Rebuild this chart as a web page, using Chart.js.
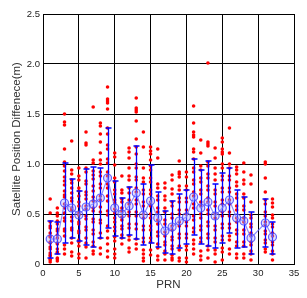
<!DOCTYPE html>
<html>
<head>
<meta charset="utf-8">
<script src="https://cdn.jsdelivr.net/npm/chart.js@4/dist/chart.umd.min.js"></script>
<style>
  html, body { margin: 0; padding: 0; background: #fff; }
  #wrap { width: 307px; height: 298px; }
</style>
</head>
<body>
<div id="wrap"><canvas id="prn-chart" width="307" height="298"></canvas></div>
<script>
// PRN numbers (30 has no data)
var prn = [1,2,3,4,5,6,7,8,9,10,11,12,13,14,15,16,17,18,19,20,21,22,23,24,25,26,27,28,29,31,32];

// mean difference per PRN (m)
var means = [0.25,0.25,0.61,0.56,0.49,0.57,0.60,0.66,0.86,0.56,0.50,0.58,0.71,0.49,0.63,0.46,0.33,0.37,0.43,0.47,0.67,0.56,0.62,0.48,0.56,0.64,0.46,0.43,0.26,0.41,0.27];

// error bar ends
var upper = [0.43,0.42,1.01,0.85,0.73,0.95,0.97,0.96,1.36,0.83,0.66,0.77,1.18,0.80,0.99,0.72,0.53,0.63,0.70,0.74,1.05,0.94,1.03,0.80,0.91,0.96,0.74,0.67,0.52,0.65,0.42];
var lower = [0.06,0.10,0.21,0.26,0.23,0.19,0.17,0.26,0.36,0.28,0.26,0.29,0.25,0.19,0.21,0.17,0.11,0.10,0.16,0.20,0.29,0.20,0.18,0.16,0.21,0.31,0.16,0.17,0.10,0.17,0.10];

// individual samples per PRN (same order as prn)
var samples = [
  [0.65,0.51,0.42,0.38,0.36,0.31,0.28,0.27,0.22,0.21,0.17,0.15,0.11,0.09,0.08,0.05,0.04,0.02],
  [0.56,0.51,0.48,0.43,0.40,0.35,0.33,0.29,0.26,0.21,0.20,0.15,0.12,0.11,0.06,0.05,0.03],
  [1.50,1.42,1.39,1.15,1.02,0.98,0.93,0.87,0.83,0.79,0.73,0.69,0.67,0.60,0.56,0.51,0.46,0.43,0.35,0.33,0.28,0.19,0.15,0.10],
  [1.23,0.94,0.90,0.84,0.81,0.76,0.71,0.66,0.63,0.56,0.54,0.47,0.43,0.36,0.34,0.26,0.21,0.12,0.08],
  [0.96,0.88,0.84,0.76,0.73,0.68,0.62,0.58,0.51,0.49,0.42,0.40,0.33,0.31,0.24,0.22,0.18,0.10,0.06],
  [1.32,1.21,1.19,0.96,0.92,0.83,0.80,0.72,0.69,0.65,0.58,0.55,0.48,0.45,0.37,0.34,0.26,0.21,0.17,0.06],
  [1.57,1.04,1.01,0.93,0.89,0.85,0.78,0.73,0.67,0.63,0.56,0.53,0.45,0.42,0.34,0.30,0.22,0.18,0.13,0.10],
  [1.41,1.38,1.30,1.22,1.11,1.04,1.00,0.92,0.88,0.80,0.76,0.68,0.64,0.57,0.52,0.44,0.41,0.31,0.26,0.16,0.10],
  [1.77,1.65,1.63,1.61,1.55,1.36,1.30,1.19,1.15,1.05,1.01,0.92,0.88,0.80,0.76,0.68,0.63,0.53,0.49,0.38,0.33,0.26,0.20,0.13,0.07],
  [1.11,1.07,0.99,0.86,0.82,0.74,0.70,0.64,0.61,0.55,0.51,0.46,0.42,0.37,0.33,0.27,0.23,0.15,0.10,0.06],
  [0.88,0.74,0.71,0.65,0.62,0.56,0.53,0.47,0.44,0.38,0.35,0.29,0.26,0.20],
  [1.16,1.12,1.06,0.96,0.88,0.84,0.76,0.71,0.64,0.60,0.52,0.48,0.40,0.36,0.28,0.24,0.16,0.12],
  [1.66,1.56,1.54,1.52,1.43,1.25,1.17,1.10,1.00,0.96,0.87,0.84,0.76,0.72,0.64,0.60,0.52,0.48,0.40,0.35,0.25,0.20,0.15],
  [1.32,1.17,0.96,0.86,0.82,0.74,0.70,0.62,0.58,0.50,0.46,0.38,0.34,0.26,0.22,0.14,0.10,0.06,0.03],
  [1.17,1.13,1.10,1.04,0.98,0.94,0.86,0.82,0.74,0.70,0.62,0.58,0.50,0.46,0.38,0.34,0.26,0.22,0.14,0.09],
  [1.15,1.06,0.80,0.76,0.68,0.64,0.56,0.52,0.44,0.40,0.32,0.28,0.20,0.16,0.08,0.04],
  [0.81,0.76,0.68,0.64,0.56,0.52,0.44,0.40,0.32,0.28,0.22,0.19,0.13,0.10,0.04],
  [0.89,0.84,0.75,0.70,0.62,0.58,0.50,0.46,0.38,0.34,0.27,0.24,0.18,0.15,0.09,0.06,0.04],
  [1.03,0.92,0.90,0.87,0.78,0.74,0.66,0.62,0.54,0.50,0.42,0.38,0.30,0.26,0.18,0.14,0.06,0.03],
  [0.92,0.87,0.78,0.74,0.66,0.62,0.54,0.50,0.42,0.38,0.30,0.26,0.18,0.14,0.06,0.02],
  [1.58,1.41,1.32,1.29,1.27,1.15,1.12,1.05,0.96,0.92,0.84,0.80,0.72,0.68,0.60,0.56,0.48,0.44,0.36,0.32,0.24,0.20,0.15,0.10],
  [1.24,1.11,0.98,0.94,0.86,0.82,0.74,0.70,0.62,0.58,0.50,0.46,0.38,0.34,0.26,0.22,0.13,0.08,0.04],
  [2.01,1.22,1.20,1.18,1.02,0.98,0.90,0.86,0.78,0.74,0.66,0.62,0.54,0.50,0.42,0.38,0.30,0.26,0.18,0.14,0.06],
  [1.16,1.06,0.96,0.90,0.84,0.74,0.70,0.62,0.58,0.50,0.46,0.38,0.34,0.26,0.22,0.14,0.10,0.02],
  [1.26,1.22,1.15,1.12,1.10,1.00,0.96,0.88,0.84,0.76,0.72,0.64,0.60,0.52,0.48,0.40,0.36,0.28,0.24,0.16,0.12,0.04],
  [1.36,1.11,1.00,0.96,0.88,0.84,0.76,0.72,0.64,0.60,0.52,0.48,0.40,0.36,0.28,0.24,0.15,0.10],
  [0.97,0.94,0.90,0.82,0.78,0.70,0.66,0.58,0.54,0.46,0.42,0.34,0.30,0.22,0.18,0.10,0.06],
  [1.01,0.92,0.84,0.80,0.70,0.66,0.58,0.54,0.46,0.42,0.34,0.30,0.22,0.18,0.10,0.06],
  [0.89,0.80,0.62,0.49,0.46,0.40,0.37,0.31,0.28,0.22,0.19,0.13,0.10,0.04],
  [1.02,1.00,0.86,0.72,0.64,0.60,0.52,0.48,0.42,0.39,0.33,0.30,0.24,0.21,0.15,0.12],
  [0.65,0.61,0.57,0.49,0.46,0.40,0.37,0.31,0.28,0.22,0.19,0.13,0.10,0.04]
];

var xTicks = [0,5,10,15,20,25,30,35];
var yTicks = [0,0.5,1,1.5,2,2.5];

var dots = [];
prn.forEach(function(p, i) {
  samples[i].forEach(function(v) { dots.push({x: p, y: v}); });
});
var meanPts = prn.map(function(p, i) { return {x: p, y: means[i]}; });

// draws the blue error bars just before the mean line
var errorBars = {
  id: "errorBars",
  beforeDatasetDraw: function(chart, args) {
    if (args.index !== 0) return;
    var ctx = chart.ctx, xs = chart.scales.x, ys = chart.scales.y;
    ctx.save();
    ctx.strokeStyle = "#0000ff";
    ctx.lineWidth = 1.3;
    prn.forEach(function(p, i) {
      var px = Math.round(xs.getPixelForValue(p)) + 0.5;
      var top = ys.getPixelForValue(upper[i]);
      var bot = ys.getPixelForValue(lower[i]);
      ctx.beginPath();
      ctx.moveTo(px, top); ctx.lineTo(px, bot);
      ctx.moveTo(px - 3, top); ctx.lineTo(px + 3, top);
      ctx.moveTo(px - 3, bot); ctx.lineTo(px + 3, bot);
      ctx.stroke();
    });
    ctx.restore();
  }
};

var config = {
  type: "scatter",
  data: {
    datasets: [
      {
        type: "line",
        data: meanPts,
        borderColor: "rgba(100, 100, 255, 0.75)",
        borderWidth: 1.2,
        pointRadius: 4,
        pointBorderWidth: 1.2,
        pointBorderColor: "rgba(70, 70, 255, 0.85)",
        pointBackgroundColor: "rgba(170, 170, 255, 0.35)",
        fill: false,
        tension: 0
      },
      {
        data: dots,
        pointRadius: 1.8,
        pointBorderWidth: 0,
        pointBackgroundColor: "#ff0000",
        borderColor: "#ff0000"
      }
    ]
  },
  options: {
    responsive: false,
    animation: false,
    layout: { padding: { top: 14, right: 13, left: 0, bottom: 0 } },
    plugins: { legend: { display: false }, tooltip: { enabled: false } },
    scales: {
      x: {
        type: "linear",
        min: 0, max: 35,
        afterBuildTicks: function(s) { s.ticks = xTicks.map(function(v) { return {value: v}; }); },
        afterFit: function(s) { s.height = 34; },
        grid: { color: "#000", lineWidth: 1, drawTicks: false },
        border: { color: "#000", width: 1 },
        ticks: { color: "#222", padding: 4, font: { family: "Liberation Sans", size: 9.5 } },
        title: { display: true, text: "PRN", color: "#333", padding: { top: 0, bottom: 6 }, font: { family: "Liberation Sans", size: 11.5 } }
      },
      y: {
        min: 0, max: 2.5,
        afterBuildTicks: function(s) { s.ticks = yTicks.map(function(v) { return {value: v}; }); },
        afterFit: function(s) { s.width = 43; },
        grid: { color: "#000", lineWidth: 1, drawTicks: false },
        border: { color: "#000", width: 1 },
        ticks: { color: "#222", padding: 3, font: { family: "Liberation Sans", size: 9.5 } },
        title: { display: true, text: "Satellite Position Diffenece(m)", color: "#333", padding: { top: 10, bottom: 0 }, font: { family: "Liberation Sans", size: 11.5 } }
      }
    }
  },
  plugins: [errorBars]
};

window.onload = function() {
  var ctx = document.getElementById("prn-chart").getContext("2d");
  window.prnChart = new Chart(ctx, config);
};
</script>
</body>
</html>
